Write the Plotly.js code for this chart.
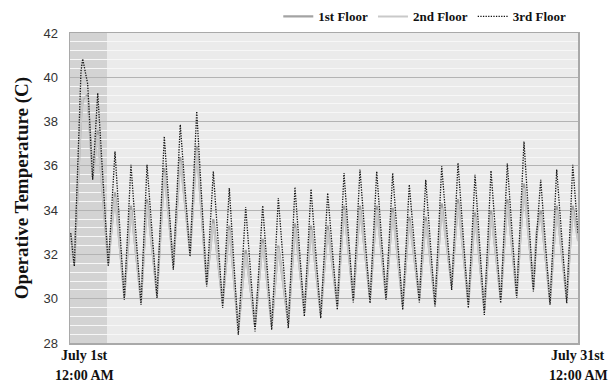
<!DOCTYPE html>
<html>
<head>
<meta charset="utf-8">
<script src="https://cdn.plot.ly/plotly-3.0.1.min.js"></script>
<style>html,body{margin:0;padding:0;background:#fff}#chart{width:609px;height:384px}</style>
</head>
<body>
<div id="chart"></div>
<script>
// hours since July 1st 12:00 AM
const hours = [1, 6.3, 16.1, 18.6, 25.9, 33.2, 40.6, 56.1, 65.9, 79.5, 89.3, 104, 112.8, 127.4, 138.1, 151.3, 161.5, 175.8, 185.6, 200.2, 209.9, 223.6, 233.3, 246.5, 257.3, 271, 282.2, 295.4, 305.1, 319.7, 329.5, 343.2, 353, 367.2, 377.4, 391.5, 401.3, 414.9, 424.7, 439.4, 449.2, 462.8, 472.6, 487.3, 496.9, 511.6, 521, 534.6, 544.4, 559, 568.3, 583.4, 593.2, 606.8, 616.6, 630.8, 640.5, 654.2, 664.9, 678.6, 683.5, 689.4, 703, 712.8, 727.5, 736.3, 744];
const floor3 = [32.96, 31.46, 40.27, 40.83, 39.7, 35.37, 39.29, 31.46, 36.65, 29.95, 36.05, 29.73, 36.05, 30.03, 37.33, 31.31, 37.86, 31.9, 38.46, 30.55, 35.75, 29.58, 35.0, 28.37, 34.14, 28.52, 34.2, 28.6, 34.55, 28.67, 35.04, 29.2, 34.95, 29.12, 34.77, 29.5, 35.67, 29.83, 35.83, 29.8, 35.75, 29.95, 35.67, 29.5, 35.15, 29.83, 35.37, 29.65, 35.98, 30.4, 36.13, 29.58, 35.6, 29.27, 35.78, 29.8, 36.1, 30.03, 37.1, 30.33, 32.9, 35.37, 29.73, 35.83, 29.8, 36.05, 32.96];
const floor1 = [32.9, 31.6, 38.2, 39.0, 39.2, 35.5, 37.6, 31.6, 34.8, 30.1, 34.2, 29.9, 34.5, 30.2, 35.9, 31.5, 36.4, 32.1, 36.9, 30.7, 33.6, 29.8, 33.3, 28.6, 32.2, 28.8, 32.7, 28.8, 32.4, 28.9, 33.4, 29.4, 33.3, 29.3, 33.3, 29.7, 34.2, 30.0, 34.2, 30.0, 34.2, 30.1, 34.1, 29.7, 33.7, 30.0, 33.7, 29.8, 34.3, 30.6, 34.5, 29.8, 33.9, 29.5, 34.0, 30.0, 34.5, 30.2, 35.2, 30.5, 33.0, 34.0, 29.9, 34.2, 30.0, 34.2, 32.7];
const floor2 = [32.8, 31.7, 38.0, 39.1, 39.1, 35.6, 37.4, 31.7, 34.6, 30.2, 34.0, 30.0, 34.3, 30.3, 35.7, 31.6, 36.2, 32.2, 36.7, 30.8, 33.4, 29.9, 33.1, 28.7, 32.0, 28.9, 32.5, 28.9, 32.3, 29.0, 33.2, 29.5, 33.1, 29.4, 33.1, 29.8, 34.0, 30.1, 34.0, 30.1, 34.0, 30.2, 33.9, 29.8, 33.5, 30.1, 33.5, 29.9, 34.1, 30.7, 34.3, 29.9, 33.7, 29.6, 33.8, 30.1, 34.3, 30.3, 35.0, 30.6, 32.9, 33.8, 30.0, 34.0, 30.1, 34.0, 32.6];
const seriesNames = ['1st Floor', '2nd Floor', '3rd Floor'];
const shadedHours = [0, 54.2];
const xRange = [0, 744];
const yTicks = [28, 30, 32, 34, 36, 38, 40, 42];
const xLabelsTop = ['July 1st', 'July 31st'];
const xLabelsBottom = ['12:00 AM', '12:00 AM'];

const serif = '"Liberation Serif", "Times New Roman", serif';
const traces = [
  {x: hours, y: floor1, name: seriesNames[0], mode: 'lines', line: {color: '#a3a3a3', width: 2.2}},
  {x: hours, y: floor2, name: seriesNames[1], mode: 'lines', line: {color: '#c9c9c9', width: 2}},
  {x: hours, y: floor3, name: seriesNames[2], mode: 'lines', line: {color: '#111', width: 1.3, dash: '1.3px,1.3px'}}
];
const lblFont = {family: serif, size: 14, color: '#111', weight: 'bold'};
const layout = {
  width: 609, height: 384,
  margin: {l: 70, r: 31, t: 33, b: 41, autoexpand: false},
  paper_bgcolor: '#fff', plot_bgcolor: '#ebebeb',
  showlegend: true,
  legend: {orientation: 'h', x: 0.41, xanchor: 'left', y: 1.005, yanchor: 'bottom',
           font: {family: serif, size: 13, color: '#111', weight: 'bold'}, bgcolor: 'rgba(0,0,0,0)',
           itemwidth: 30, tracegroupgap: 0},
  xaxis: {range: xRange, showticklabels: false, showgrid: false, zeroline: false,
          showline: true, mirror: true, linecolor: '#a9a9a9', linewidth: 1.5, ticks: ''},
  yaxis: {range: [28, 42], tickvals: yTicks, showgrid: true, gridcolor: '#b3b3b3', gridwidth: 1,
          minor: {dtick: 0.4, showgrid: true, gridcolor: '#f7f7f7', gridwidth: 1},
          zeroline: false, showline: true, mirror: true, linecolor: '#a9a9a9', linewidth: 1.5,
          ticks: 'outside', ticklen: 8, tickcolor: 'rgba(0,0,0,0)',
          tickfont: {family: '"Liberation Sans", Arial, sans-serif', size: 13, color: '#333'},
          title: {text: 'Operative Temperature (C)', standoff: 10,
                  font: {family: serif, size: 19, color: '#111', weight: 'bold'}}},
  shapes: [{type: 'rect', xref: 'x', yref: 'paper', x0: shadedHours[0], x1: shadedHours[1], y0: 0, y1: 1,
            fillcolor: '#d3d3d3', line: {width: 0}, layer: 'below'}],
  annotations: [
    {xref: 'paper', yref: 'paper', x: 0.028, xanchor: 'center', y: -0.01, yanchor: 'top', text: xLabelsTop[0], showarrow: false, font: lblFont},
    {xref: 'paper', yref: 'paper', x: 0.028, xanchor: 'center', y: -0.074, yanchor: 'top', text: xLabelsBottom[0], showarrow: false, font: lblFont},
    {xref: 'paper', yref: 'paper', x: 1.0, xanchor: 'center', y: -0.01, yanchor: 'top', text: xLabelsTop[1], showarrow: false, font: lblFont},
    {xref: 'paper', yref: 'paper', x: 1.0, xanchor: 'center', y: -0.074, yanchor: 'top', text: xLabelsBottom[1], showarrow: false, font: lblFont}
  ]
};
Plotly.newPlot('chart', traces, layout, {displayModeBar: false, staticPlot: true});
</script>
</body>
</html>
